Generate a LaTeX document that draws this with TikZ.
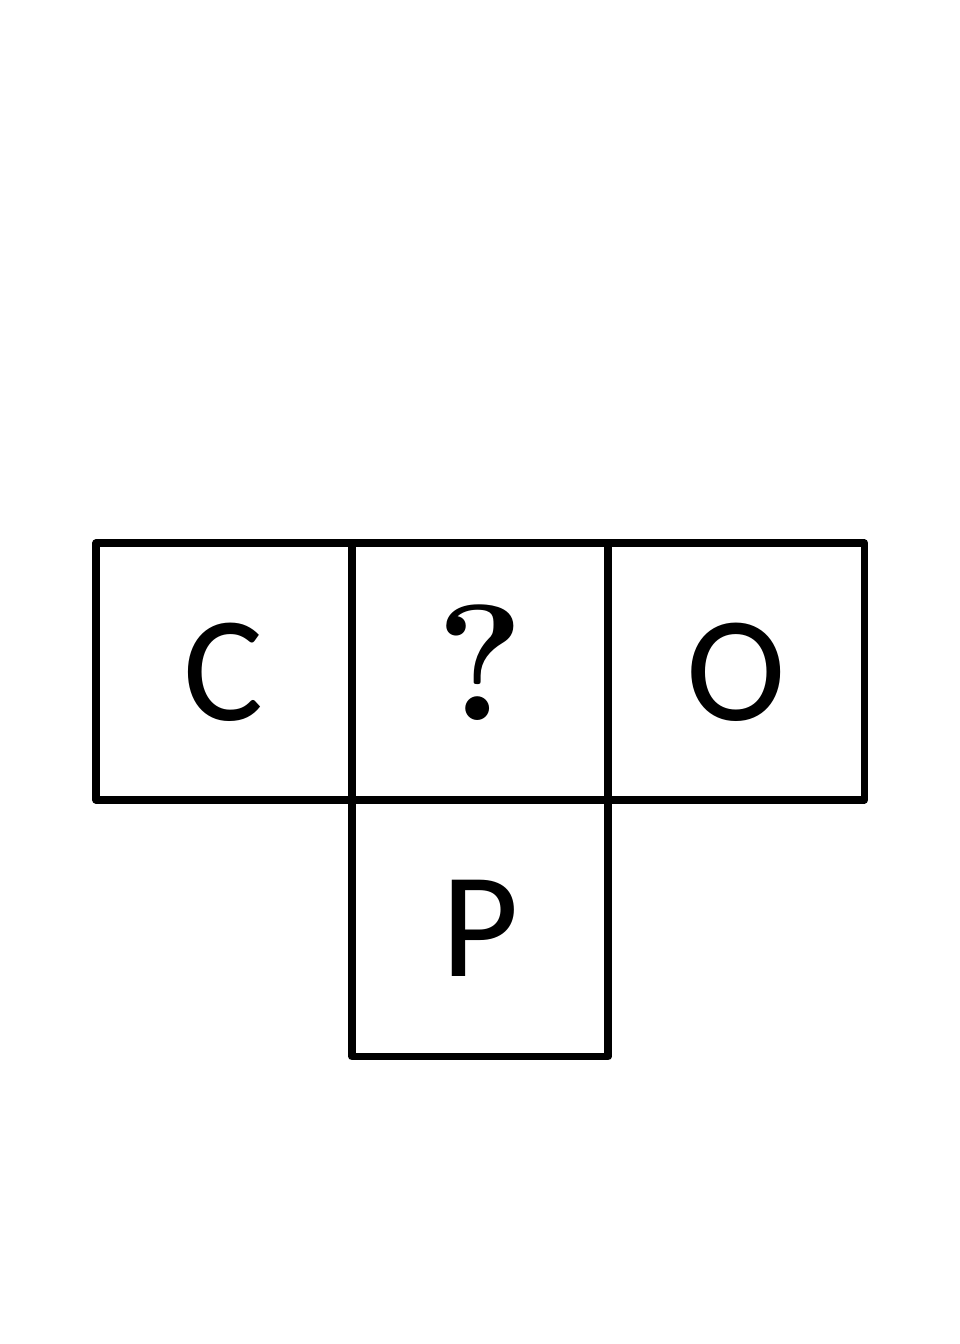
\documentclass[tikz,border=0pt]{standalone}
\usepackage{fontspec}
\setsansfont{Carlito}
\usetikzlibrary{positioning}

\begin{document}
\begin{tikzpicture}[x=0.01cm, y=-0.01cm]

    % Define styles
    \tikzset{
        net cell/.style={draw=black, line width=0.075cm, line join=round,
            minimum width=2.56cm, minimum height=2.565cm, inner sep=0pt,
            outer sep=0pt, text height=0.97cm, text depth=0pt,
            font=\sffamily\fontsize{42.7}{50}\selectfont}
    }

    % Page margins
    \useasboundingbox (0, 0) rectangle (960, 1344);

    % Top row of the net
    \node[net cell] (cell-c) at (224, 671.5) {C};
    \node[net cell, right=0pt of cell-c] (cell-q)
        {\rmfamily\bfseries\fontsize{47}{56}\selectfont ?};
    \node[net cell, right=0pt of cell-q] (cell-o) {O};

    % Face below the middle one
    \node[net cell, below=0pt of cell-q] (cell-p) {P};

\end{tikzpicture}
\end{document}
